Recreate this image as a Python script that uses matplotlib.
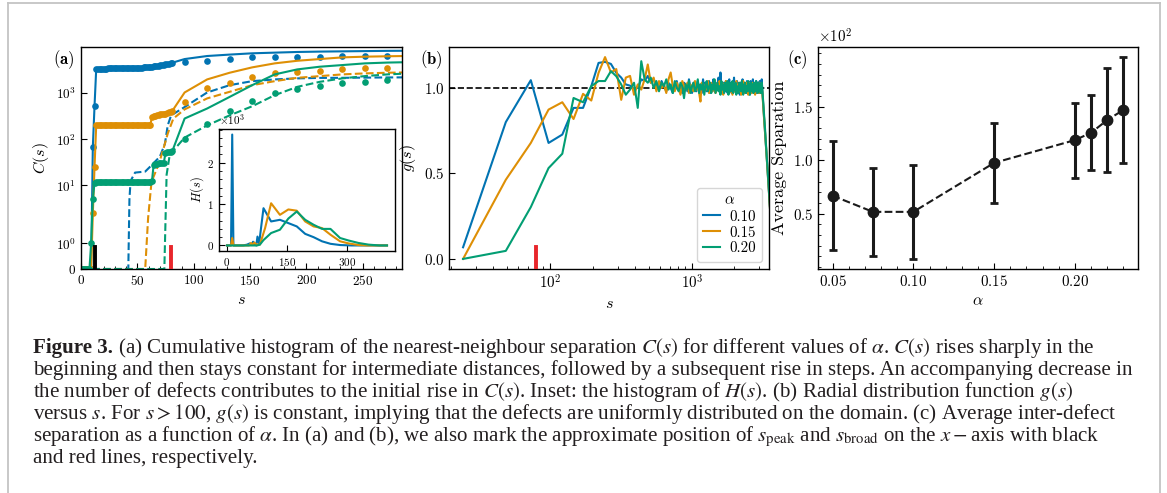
import numpy as np
import matplotlib
matplotlib.use('Agg')
import matplotlib.pyplot as plt
from matplotlib.lines import Line2D
from matplotlib.ticker import MultipleLocator, NullLocator

# ---------------- data ----------------
alpha_labels = ['0.10', '0.15', '0.20']

# panel (a): cumulative histogram C(s)
s_dense = [1.5 * i for i in range(55)]
C_dense_b = [0, 0, 0, 0, 0, 0, 0, 68, 520, 3300, 3400,
             3400, 3410, 3410, 3420, 3420, 3430, 3430, 3440, 3440, 3450,
             3450, 3460, 3460, 3470, 3480, 3480, 3490, 3500, 3500, 3510,
             3520, 3530, 3540, 3550, 3560, 3580, 3600, 3630, 3660, 3700,
             3740, 3780, 3820, 3870, 3920, 3970, 4030, 4090, 4150, 4220,
             4300, 4380, 4470, 4560]
C_dense_o = [0, 0, 0, 0, 0, 0, 0, 2.5, 25, 200, 200,
             200, 200, 200, 200, 200, 200, 200, 200, 200, 200,
             200, 200, 200, 200, 200, 200, 200, 200, 200, 200,
             201, 201, 202, 202, 203, 203, 204, 204, 205, 205,
             206, 300, 318, 325, 330, 336, 345, 352, 356, 362,
             372, 385, 398, 410]
C_dense_g = [0, 0, 0, 0, 0, 0, 1, 5, 11.5, 11.7, 11.7,
             11.7, 11.7, 11.7, 11.7, 11.7, 11.7, 11.7, 11.7, 11.7, 11.7,
             11.7, 11.7, 11.7, 11.7, 11.7, 11.7, 11.7, 11.7, 11.7, 11.7,
             11.7, 11.7, 11.7, 11.7, 11.7, 11.7, 11.7, 11.7, 11.7, 11.7,
             11.8, 12.5, 28, 29, 29.5, 30, 30.2, 30.5, 31, 50,
             52, 53, 54, 55]

s_tail = [92, 112, 132, 152, 172, 192, 212, 232, 252, 272, 292]
C_tail_b = [5480, 6380, 6850, 7300, 7550, 7800, 7950, 8050, 8150, 8250, 8300]
C_tail_o = [1035, 1985, 2770, 3620, 4420, 5030, 5480, 5960, 6170, 6300, 6400]
C_tail_g = [282, 465, 830, 1490, 2550, 3270, 3740, 4060, 4420, 4600, 4700]

s_sparse = [92, 112, 132, 152, 172, 192, 212, 232, 252, 272]
C_sparse_b = [4790, 5030, 5480, 5960, 6170, 6170, 6200, 6380, 6380, 6380]
C_sparse_o = [628, 1265, 1680, 2190, 2680, 2910, 3060, 3270, 3440, 3440]
C_sparse_g = [100, 212, 413, 670, 985, 1200, 1420, 1620, 1760, 1920]

s_dash_b = [0, 42, 43, 44, 48, 57, 61, 70, 74.5, 77, 80, 92, 112, 132, 152, 172, 192, 212, 232, 252, 272, 292]
C_dash_b = [0, 0, 5, 12.5, 19, 20, 25, 42, 80, 200, 330, 500, 1035, 1490, 1820, 1985, 2090, 2140, 2150, 2170, 2190, 2200]
s_dash_o = [0, 57, 59.6, 62.6, 69, 73, 77, 82, 92, 112, 132, 152, 172, 192, 212, 232, 252, 272, 292]
C_dash_o = [0, 0, 2, 12, 29, 60, 133, 282, 445, 770, 1070, 1490, 1820, 2150, 2340, 2550, 2680, 2770, 2820]
s_dash_g = [0, 74, 76, 79, 82, 92, 112, 132, 152, 172, 192, 212, 232, 252, 272, 292]
C_dash_g = [0, 0, 17, 50, 57, 109, 200, 330, 520, 905, 1370, 1760, 2090, 2340, 2550, 2680]

s_peak, s_broad = 12, 80

# inset: histogram H(s)
s_in_b = [0, 10, 13, 16, 40, 50, 57, 61, 65, 70, 73, 76, 80, 91, 110, 132, 153, 174, 195, 216, 237, 258, 282, 310, 340, 370, 399]
H_in_b = [0, 0, 2680, 0, 0, 20, 50, 10, 90, 30, 0, 215, 40, 900, 580, 620, 540, 460, 280, 200, 100, 40, 10, 0, 0, 0, 0]
s_in_o = [0, 10, 13, 16, 40, 55, 60, 64, 68, 74, 82, 95, 110, 132, 153, 174, 195, 216, 237, 258, 282, 303, 328, 350, 399]
H_in_o = [0, 0, 180, 0, 0, 0, 60, 10, 70, 20, 20, 420, 1020, 740, 870, 840, 580, 460, 420, 260, 100, 50, 10, 0, 0]
s_in_g = [0, 60, 75, 82, 91, 110, 132, 153, 174, 195, 216, 237, 258, 282, 303, 328, 353, 380, 399]
H_in_g = [0, 0, 0, 20, 130, 300, 380, 650, 820, 620, 500, 400, 400, 180, 120, 60, 20, 0, 0]

# panel (b): radial distribution g(s), bins of width 24.5
bin_width = 24.5
g_b = [0.068, 0.80, 1.045, 0.678, 0.727, 0.883, 0.883, 1.01, 1.146, 1.152, 1.14, 1.088, 1.06, 1.02, 1.013, 0.994,
       1.00, 1.05, 1.04, 1.07, 1.03, 1.05, 1.02, 0.99, 1.04, 1.01,
       0.98, 1.03, 1.00, 0.97, 1.02, 1.04, 0.99, 1.01, 0.97, 1.03,
       1.02, 0.98, 1.05, 1.00, 0.97, 1.03, 1.01, 0.98, 1.04, 0.99,
       1.02, 0.97, 1.05, 1.00, 1.03, 0.98, 1.01, 1.04, 0.97, 1.02,
       1.00, 1.05, 0.98, 1.03, 0.99, 1.02, 1.06, 0.98, 1.09, 1.00,
       0.97, 1.03, 1.01, 0.98, 1.04, 1.00, 0.97, 1.02, 1.05, 0.99,
       1.01, 0.97, 1.03, 1.00, 1.06, 0.98, 1.02, 0.99, 1.04, 0.97,
       1.02, 1.00, 0.96, 1.03, 1.01, 0.98, 1.05, 1.00, 0.97, 1.03,
       0.99, 1.02, 0.97, 1.04, 1.00, 0.98, 1.03, 0.96, 1.01, 1.04,
       0.98, 1.02, 0.99, 1.05, 0.97, 1.01, 1.03, 0.98, 1.00, 1.04,
       0.97, 1.02, 0.99, 1.03, 1.00, 0.97, 1.04, 1.01, 0.98, 1.02, 1.05,
       0.99, 0.95, 0.90, 0.86, 0.82, 0.78, 0.74, 0.70, 0.66, 0.62, 0.58, 0.54, 0.50, 0.46, 0.42, 0.38, 0.34, 0.30]
g_o = [0.0, 0.463, 0.678, 0.873, 0.916, 0.818, 0.965, 0.926, 1.088, 1.18, 1.09, 1.11, 0.93, 1.06, 1.07, 0.96,
       1.02, 0.99, 1.05, 1.137, 1.03, 1.06, 0.98, 1.04, 1.00, 1.02,
       0.97, 1.05, 1.09, 1.01, 0.98, 1.03, 1.00, 0.96, 1.04, 1.01,
       0.99, 1.03, 0.97, 1.02, 1.00, 0.98, 1.04, 0.99, 1.01, 0.97,
       0.92, 1.03, 1.00, 0.98, 1.02, 0.99, 1.04, 0.97, 1.01, 1.03,
       0.98, 1.00, 1.03, 0.97, 1.02, 0.99, 1.01, 1.04, 0.98, 1.00,
       1.03, 0.96, 1.02, 0.99, 1.04, 1.00, 0.98, 1.03, 0.97, 1.01,
       1.02, 0.99, 0.96, 1.03, 1.00, 0.98, 1.02, 1.04, 0.99, 0.97,
       1.01, 1.03, 0.98, 1.00, 0.96, 1.02, 0.99, 1.04, 1.00, 0.97,
       1.02, 0.98, 1.03, 0.99, 1.01, 0.96, 1.03, 1.00, 0.98, 1.02,
       1.00, 0.97, 1.03, 0.99, 1.02, 0.98, 1.01, 0.96, 1.03, 1.00,
       0.98, 1.02, 0.99, 1.01, 0.97, 1.03, 0.99, 1.00, 0.97, 1.02, 1.00,
       0.98, 0.94, 0.90, 0.86, 0.82, 0.78, 0.74, 0.70, 0.66, 0.62, 0.58, 0.54, 0.50, 0.46, 0.42, 0.38, 0.34, 0.30]
g_g = [0.0, 0.047, 0.303, 0.531, 0.615, 0.941, 0.916, 1.01, 1.04, 1.04, 1.098, 1.068, 1.02, 0.96, 0.99, 1.03,
       0.883, 1.156, 1.05, 1.03, 1.06, 1.00, 1.04, 0.98, 1.03, 1.01,
       1.05, 0.99, 1.02, 0.97, 1.04, 1.00, 0.98, 1.03, 1.01, 0.94,
       1.02, 0.99, 1.04, 0.97, 1.01, 1.03, 0.98, 1.00, 1.05, 0.97,
       1.02, 0.99, 1.03, 0.96, 1.01, 1.04, 0.98, 1.00, 1.03, 0.97,
       1.02, 0.99, 1.05, 0.97, 1.00, 1.03, 0.98, 1.01, 0.96, 1.04,
       0.99, 1.02, 0.97, 1.03, 1.00, 0.98, 1.04, 0.96, 1.01, 1.03,
       0.98, 1.00, 1.04, 0.97, 1.02, 0.99, 1.03, 0.96, 1.01, 1.00,
       0.97, 1.03, 0.99, 1.02, 0.98, 1.04, 1.00, 0.96, 1.02, 0.99,
       1.03, 0.97, 1.01, 1.00, 0.98, 1.04, 0.99, 1.02, 0.96, 1.01,
       1.03, 0.98, 1.00, 1.02, 0.97, 1.03, 0.99, 1.01, 0.98, 1.04,
       0.99, 1.02, 0.97, 1.01, 1.03, 0.98, 1.00, 1.02, 0.97, 1.01, 1.03,
       1.00, 0.96, 0.92, 0.88, 0.84, 0.80, 0.76, 0.71, 0.67, 0.63, 0.59, 0.55, 0.51, 0.47, 0.43, 0.39, 0.35, 0.31]

# panel (c): average separation
alpha_c = [0.05, 0.075, 0.10, 0.15, 0.20, 0.21, 0.22, 0.23]
sep_c = [66.8, 51.7, 51.7, 97.5, 118.8, 125.7, 137.6, 147.0]
err_c = [51.0, 41.0, 44.0, 37.6, 35.0, 35.3, 48.6, 49.4]

# ---------------- style ----------------
W, H = 1167, 493
plt.rcParams.update({
    'mathtext.fontset': 'cm',
    'font.family': 'serif',
    'font.serif': ['cmr10'],
    'axes.formatter.use_mathtext': True,
    'font.size': 10.8,
    'xtick.direction': 'in', 'ytick.direction': 'in',
    'xtick.major.size': 4, 'ytick.major.size': 4,
    'xtick.minor.size': 2, 'ytick.minor.size': 2,
    'xtick.labelsize': 10.8, 'ytick.labelsize': 10.8,
    'axes.linewidth': 1.0,
})
BLUE, ORANGE, GREEN = '#0173b2', '#de8f05', '#029e73'
RED = '#e8262b'
cols = [BLUE, ORANGE, GREEN]

fig = plt.figure(figsize=(W / 100, H / 100), dpi=100)


def px_axes(l, t, r, b):
    return fig.add_axes([l / W, 1 - b / H, (r - l) / W, (b - t) / H])


axA = px_axes(81, 47, 402, 269)
axB = px_axes(449, 47, 769, 269)
axC = px_axes(818, 47, 1138, 269)
axIn = px_axes(219, 129, 395, 251)

# ---- panel (a)
dense = [C_dense_b, C_dense_o, C_dense_g]
tails = [C_tail_b, C_tail_o, C_tail_g]
sparse = [C_sparse_b, C_sparse_o, C_sparse_g]
dashes = [(s_dash_b, C_dash_b), (s_dash_o, C_dash_o), (s_dash_g, C_dash_g)]
for c, d, t, sp, (sd, cd) in zip(cols, dense, tails, sparse, dashes):
    axA.plot(s_dense + s_tail, d + t, '-', color=c, lw=1.5)
    axA.plot(s_dense + s_sparse, d + sp, 'o', color=c, ms=4.8, mew=0, ls='none')
    axA.plot(sd, cd, '--', color=c, lw=1.5)
axA.axvline(s_peak, ymin=0, ymax=0.1, color='k', lw=2.8, zorder=4)
axA.axvline(s_broad, ymin=0, ymax=0.1, color=RED, lw=2.8, zorder=4)
axA.set_yscale('symlog', linthresh=2, linscale=1)
axA.set_ylim(0, 1e4)
axA.set_xlim(0, 285)
axA.set_yticks([0, 1, 10, 100, 1000])
axA.yaxis.set_minor_locator(NullLocator())
axA.xaxis.set_minor_locator(MultipleLocator(10))
axA.tick_params(which='both', top=False, right=False, labelsize=9.5)
axA.set_xlabel('$s$', fontsize=11.5)
axA.set_ylabel('$C(s)$', fontsize=11.5)
axA.text(-0.087, 0.995, r'$\mathbf{(a)}$', transform=axA.transAxes, ha='left', va='top', fontsize=12)

# ---- inset
for c, (si, hi) in zip(cols, [(s_in_b, H_in_b), (s_in_o, H_in_o), (s_in_g, H_in_g)]):
    axIn.plot(si, hi, color=c, lw=1.5)
axIn.set_xticks([0, 150, 300])
axIn.set_yticks([0, 1000, 2000])
axIn.ticklabel_format(axis='y', style='sci', scilimits=(3, 3))
axIn.yaxis.set_minor_locator(MultipleLocator(200))
axIn.tick_params(which='both', top=False, right=False, labelsize=8)
axIn.yaxis.get_offset_text().set_fontsize(8)
axIn.set_ylabel('$H(s)$', fontsize=9, labelpad=1)

# ---- panel (b)
axB.axhline(1.0, color='k', ls='--', lw=1.2, zorder=1)
for c, g in zip(cols, [g_b, g_o, g_g]):
    s_bins = bin_width * np.arange(1, len(g) + 1)
    axB.plot(s_bins, g, color=c, lw=1.5)
axB.axvline(s_broad, ymin=0, ymax=0.1, color=RED, lw=2.8, zorder=4)
axB.set_xscale('log')
axB.set_xlim(19.5, 3500)
axB.set_yticks([0.0, 0.5, 1.0])
axB.tick_params(which='both', top=False, right=False)
axB.set_xlabel('$s$', fontsize=11.5)
axB.set_ylabel('$g(s)$', fontsize=11.5)
leg_handles = [Line2D([], [], color=c, lw=1.5) for c in cols]
axB.legend(leg_handles, alpha_labels, title=r'$\alpha$', loc='lower right', fontsize=10.8,
           title_fontsize=10.8, handlelength=1.1, handletextpad=0.6, labelspacing=0.15,
           borderpad=0.4, borderaxespad=0.5)
axB.text(-0.09, 0.995, r'$\mathbf{(b)}$', transform=axB.transAxes, ha='left', va='top', fontsize=12)

# ---- panel (c)
axC.errorbar(alpha_c, sep_c, yerr=err_c, fmt='o--', color='#1a1a1a', ms=7.5, lw=1.5,
             elinewidth=2.2, capsize=3, capthick=2)
axC.set_xticks([0.05, 0.10, 0.15, 0.20])
axC.set_yticks([50, 100, 150])
axC.ticklabel_format(axis='y', style='sci', scilimits=(2, 2))
axC.xaxis.set_minor_locator(MultipleLocator(0.01))
axC.yaxis.set_minor_locator(MultipleLocator(10))
axC.tick_params(which='both', top=False, right=False)
axC.set_xlabel(r'$\alpha$', fontsize=11.5)
axC.set_ylabel('Average Separation', fontsize=13)
axC.text(-0.097, 0.995, r'$\mathbf{(c)}$', transform=axC.transAxes, ha='left', va='top', fontsize=12)

# ---- frame around figure block
fc = '#c4c4c4'
fig.add_artist(Line2D([8 / W, 8 / W], [0, 1 - 3 / H], transform=fig.transFigure, color=fc, lw=1.3))
fig.add_artist(Line2D([1160 / W, 1160 / W], [0, 1 - 3 / H], transform=fig.transFigure, color=fc, lw=1.3))
fig.add_artist(Line2D([8 / W, 1160 / W], [1 - 3 / H, 1 - 3 / H], transform=fig.transFigure, color=fc, lw=1.3))

# ---- caption
cap_lines = [
    r' (a) Cumulative histogram of the nearest-neighbour separation $C(s)$ for different values of $\alpha$. $C(s)$ rises sharply in the',
    r'beginning and then stays constant for intermediate distances, followed by a subsequent rise in steps. An accompanying decrease in',
    r'the number of defects contributes to the initial rise in $C(s)$. Inset: the histogram of $H(s)$. (b) Radial distribution function $g(s)$',
    r'versus $s$. For $s > 100$, $g(s)$ is constant, implying that the defects are uniformly distributed on the domain. (c) Average inter-defect',
    r'separation as a function of $\alpha$. In (a) and (b), we also mark the approximate position of $s_{\rm peak}$ and $s_{\rm broad}$ on the $x-$axis with black',
    r'and red lines, respectively.',
]
cap_kw = dict(family='Liberation Serif', math_fontfamily='stix', color='#231f20')
renderer = fig.canvas.get_renderer()
probe = fig.text(0, 0, cap_lines[1], fontsize=12, **cap_kw)
wp = probe.get_window_extent(renderer).width
probe.remove()
cfs = 12 * (1130 - 33) / wp

x0 = 33
y0 = 353
dy = 22
tb = fig.text(x0 / W, 1 - y0 / H, 'Figure 3.', fontsize=cfs, weight='bold', va='baseline', **cap_kw)
wb = tb.get_window_extent(renderer).width
for i, ln in enumerate(cap_lines):
    xx = x0 + (wb if i == 0 else 0)
    fig.text(xx / W, 1 - (y0 + i * dy) / H, ln, fontsize=cfs, va='baseline', **cap_kw)

fig.savefig('out.png', dpi=100)
